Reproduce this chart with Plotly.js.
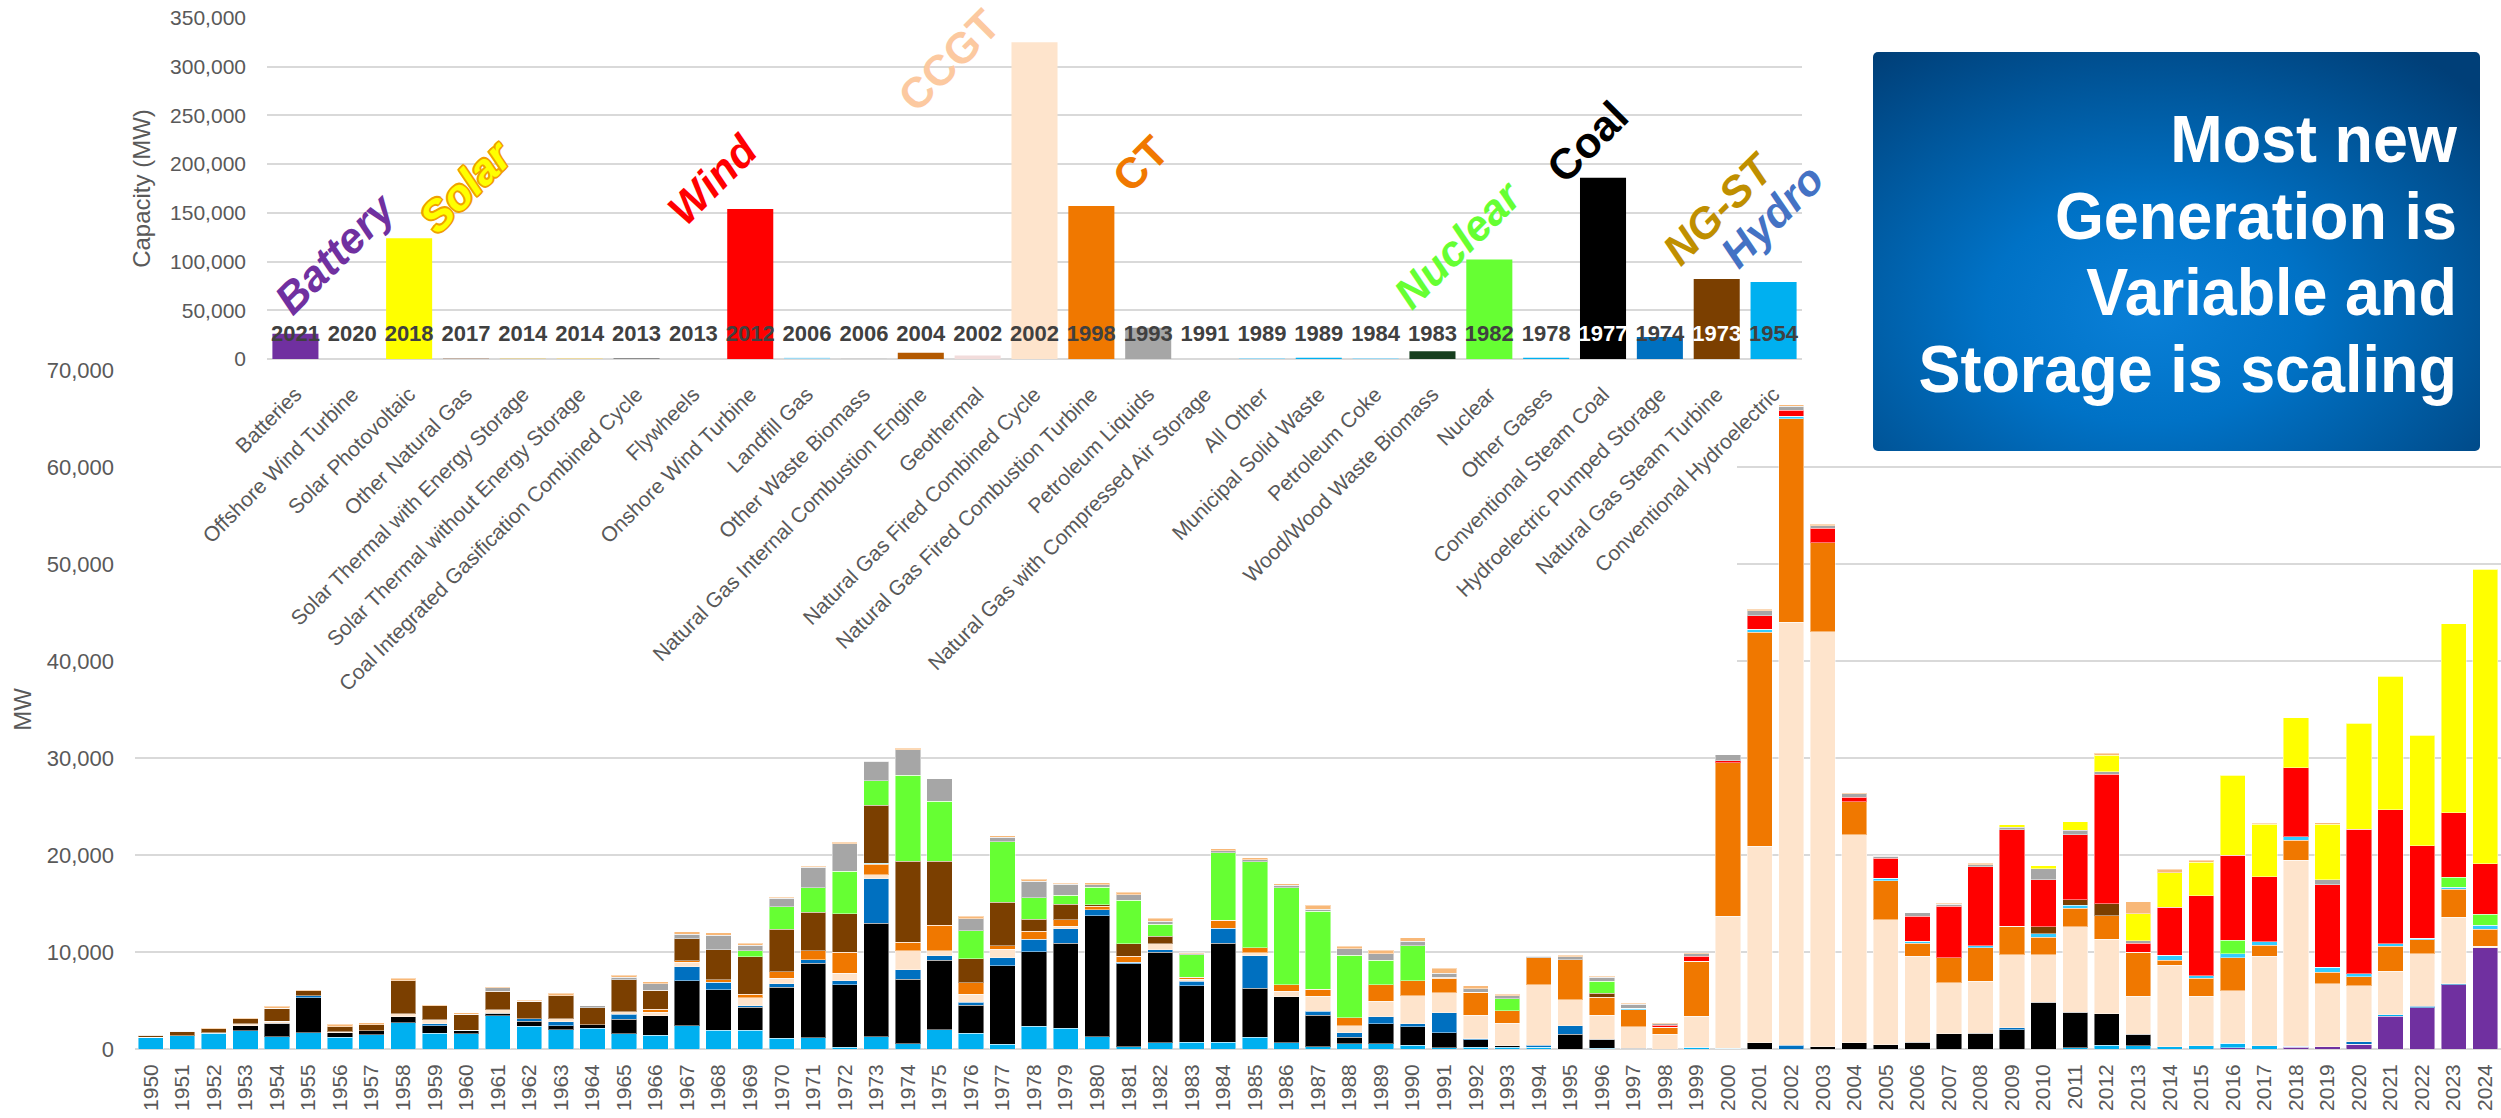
<!DOCTYPE html>
<html><head><meta charset="utf-8">
<script src="https://cdn.plot.ly/plotly-3.0.1.min.js"></script>
<style>
html,body{margin:0;padding:0;background:#fff;width:2501px;height:1118px;overflow:hidden;font-family:'Liberation Sans',Arial,sans-serif}
#main{position:absolute;left:0;top:0;width:2501px;height:1118px}
#cover{position:absolute;left:122px;top:0;width:1615px;height:705px;background:#fff}
#inset{position:absolute;left:0;top:0;width:1840px;height:720px}
#box{position:absolute;left:1873px;top:52px;width:607px;height:399px;border-radius:5px;
 background:radial-gradient(ellipse 75% 80% at 45% 65%, #0a80d8 0%, #0072c6 35%, #005ba2 65%, #003f78 100%);}
#box .txt{position:absolute;right:23px;top:49px;text-align:right;color:#fff;
 font-family:'Liberation Sans',Arial,sans-serif;font-weight:bold;font-size:66px;line-height:76.7px;white-space:nowrap;
 transform:scaleX(0.953);transform-origin:right top}
</style></head>
<body>
<div id="main"></div>
<div id="cover"></div>
<div id="inset"></div>
<div id="box"><div class="txt">Most new<br>Generation is<br>Variable and<br>Storage is scaling</div></div>
<script>
// ---------- main chart data (MW added per year) ----------
const YEARS = [1950,1951,1952,1953,1954,1955,1956,1957,1958,1959,
 1960,1961,1962,1963,1964,1965,1966,1967,1968,1969,
 1970,1971,1972,1973,1974,1975,1976,1977,1978,1979,
 1980,1981,1982,1983,1984,1985,1986,1987,1988,1989,
 1990,1991,1992,1993,1994,1995,1996,1997,1998,1999,
 2000,2001,2002,2003,2004,2005,2006,2007,2008,2009,
 2010,2011,2012,2013,2014,2015,2016,2017,2018,2019,
 2020,2021,2022,2023,2024];

const batteries = [0,0,0,0,0,0,0,0,0,0, 0,0,0,0,0,0,0,0,0,0, 0,0,0,0,0,0,0,0,0,0, 0,0,0,0,0,0,0,0,0,0,
 0,0,0,0,0,0,0,0,0,0, 0,0,0,0,0,0,0,0,0,0, 0,0,0,0,0,0,150,0,200,250, 500,3400,4250,6650,10450];
const convHydro = [1200,1380,1600,1900,1250,1700,1200,1450,2700,1650,
 1550,3450,2350,2000,2150,1550,1400,2400,1950,1950,
 1100,1150,200,1250,550,2000,1600,500,2350,2150,
 1250,250,650,700,700,1200,650,250,550,550,
 400,150,200,200,200,0,100,0,0,200,
 100,0,0,0,0,0,0,0,0,0,
 0,150,400,350,250,350,450,350,100,0,
 0,150,0,0,0];
const steamCoal = [0,0,0,500,1400,3600,500,450,600,750,
 400,250,500,400,350,1500,2050,4650,4150,2350,
 5250,7700,6400,11700,6650,7150,2900,8100,7700,8750,
 12500,8550,9300,5800,10200,5050,4750,3250,650,2050,
 1900,1550,750,150,0,1500,900,100,0,0,
 0,650,0,250,650,450,700,1550,1650,2000,
 4800,3650,3250,1150,0,0,0,0,0,0,
 0,0,0,0,0];
const pumpedStorage = [0,0,100,0,0,200,0,0,0,200,
 0,0,250,400,0,550,0,1450,800,150,
 400,350,450,4600,950,450,300,800,1250,1500,
 600,150,300,500,1550,3350,0,400,500,700,
 300,2050,100,0,200,900,0,0,0,0,
 0,0,400,0,0,0,0,0,0,200,
 0,0,0,0,0,0,0,0,0,0,
 250,0,150,100,0];
const ngcc = [0,0,0,200,200,0,100,0,350,400,
 0,350,0,300,0,250,350,450,0,850,
 550,0,750,400,2000,550,850,900,0,250,
 0,0,600,200,0,300,550,1550,700,1600,
 2900,2050,2450,2300,6250,2700,2500,2200,1500,3200,
 13600,20250,43600,42750,21450,12900,8850,5300,5350,7500,
 4900,8800,7650,3950,8400,5100,5400,9200,19150,6500,
 5750,4450,5400,6850,150];
const ngct = [0,0,0,0,0,0,0,0,0,0,
 0,0,0,0,0,0,300,150,250,350,
 650,950,2150,1100,850,2600,1200,350,850,700,
 350,600,0,200,800,550,700,700,800,1700,
 1550,1500,2350,1300,2750,4100,1850,1750,750,5650,
 15800,22050,21000,9200,3400,4000,1350,2550,3450,2950,
 1800,1900,2450,4550,500,1850,3400,1150,2050,1150,
 950,2600,1450,2850,1750];
const landfillGas = [0,0,0,0,0,0,0,0,0,0, 0,0,0,0,0,0,0,0,0,0,
 0,0,0,100,0,0,0,0,0,0, 0,0,0,0,0,0,0,0,0,0,
 0,0,0,0,0,0,0,150,0,0,
 0,300,250,0,0,250,200,0,200,0,
 400,300,0,0,500,250,400,350,400,550,
 300,250,150,250,400];
const ngSteam = [200,450,400,500,1350,500,500,600,3400,1450,
 1650,1900,1800,2400,1750,3300,1950,2250,3100,3850,
 4400,3950,4000,6000,8350,6600,2450,4500,1250,1550,
 150,1300,800,0,0,0,0,0,0,0,
 0,100,0,0,0,0,400,0,0,0,
 0,0,0,0,0,0,0,0,0,0,
 700,600,1200,0,0,0,0,0,0,0,
 0,0,0,0,0];
const nuclear = [0,0,0,0,0,0,0,0,0,0, 0,0,0,0,0,0,0,0,0,650,
 2300,2500,4400,2500,8850,6200,2900,6200,2200,950,
 1850,4500,1200,2300,7000,8850,10000,8050,6450,2550,
 3600,0,0,1250,0,0,1250,0,0,0,
 0,0,0,0,0,0,0,0,0,0,
 0,0,0,0,0,0,1400,0,0,0,
 0,0,0,1000,1150];
const onshoreWind = [0,0,0,0,0,0,0,0,0,0, 0,0,0,0,0,0,0,0,0,0, 0,0,0,0,0,0,0,0,0,0, 0,0,0,0,0,0,0,0,0,0,
 0,0,0,0,0,0,0,0,200,500,
 200,1400,600,1500,450,2050,2600,5300,8150,9950,
 4850,6700,13400,900,4950,8250,8800,6700,7100,8500,
 14900,13800,9550,6650,5200];
const petroleum = [50,0,0,0,0,0,0,0,0,0,
 0,350,0,0,200,250,700,500,1500,550,
 900,2150,2800,2000,2650,2300,1250,500,1700,1150,
 250,550,300,100,200,200,250,200,700,650,
 450,400,350,300,150,300,400,400,150,250,
 650,550,400,250,350,200,350,200,200,250,
 1150,450,250,250,0,0,0,0,0,500,
 0,0,0,0,0];
const solarPV = [0,0,0,0,0,0,0,0,0,0, 0,0,0,0,0,0,0,0,0,0, 0,0,0,0,0,0,0,0,0,0, 0,0,0,0,0,0,0,0,0,0,
 0,0,0,0,0,0,0,0,0,0,
 0,0,0,0,0,0,0,0,0,250,
 300,900,1700,2800,3550,3450,8200,5400,5150,5700,
 10950,13800,11400,19500,30350];
const allOther = [30,50,50,50,200,100,250,200,250,100,
 150,100,150,250,0,200,200,250,250,200,
 100,100,150,0,150,0,250,150,200,100,
 200,250,350,100,200,200,150,400,250,400,
 350,500,300,150,0,150,100,100,100,50,
 0,150,150,150,50,50,0,150,150,0,
 0,0,200,1250,400,200,0,100,0,150,
 0,0,0,0,0];

// ---------- inset data (peak-year capacity by technology) ----------
const TECH = ['Batteries','Offshore Wind Turbine','Solar Photovoltaic','Other Natural Gas',
 'Solar Thermal with Energy Storage','Solar Thermal without Energy Storage',
 'Coal Integrated Gasification Combined Cycle','Flywheels','Onshore Wind Turbine','Landfill Gas',
 'Other Waste Biomass','Natural Gas Internal Combustion Engine','Geothermal',
 'Natural Gas Fired Combined Cycle','Natural Gas Fired Combustion Turbine','Petroleum Liquids',
 'Natural Gas with Compressed Air Storage','All Other','Municipal Solid Waste','Petroleum Coke',
 'Wood/Wood Waste Biomass','Nuclear','Other Gases','Conventional Steam Coal',
 'Hydroelectric Pumped Storage','Natural Gas Steam Turbine','Conventional Hydroelectric'];
const TECH_YEAR = ['2021','2020','2018','2017','2014','2014','2013','2013','2012','2006','2006','2004','2002',
 '2002','1998','1993','1991','1989','1989','1984','1983','1982','1978','1977','1974','1973','1954'];
const TECH_CAP = [26000,40,124000,300,200,500,600,50,154000,1300,300,6500,3500,
 325000,157000,32000,100,1000,1200,1000,8000,102000,1200,186000,22500,82000,79000];
const TECH_COLORS = ['#7030A0','#C00000','#FFFF00','#843C0C','#FFC000','#FFD966','#404040','#7F7F7F',
 '#FF0000','#9DD9F3','#BFBFBF','#B35900','#F2DCDB','#FEE4CC','#F07800','#A6A6A6','#2F5597',
 '#9DD9F3','#00B0F0','#9DD9F3','#163E1E','#66FF33','#00B0F0','#000000','#0070C0','#7B3F00','#00B0F0'];
const TECH_YEAR_COLORS = TECH_YEAR.map((y,i) => (i===23||i===25) ? '#FFFFFF' : '#404040');

// ---------- main chart ----------
const STACK = [
 ['Batteries', batteries, '#7030A0'],
 ['Conventional Hydroelectric', convHydro, '#00B0F0'],
 ['Conventional Steam Coal', steamCoal, '#000000'],
 ['Hydroelectric Pumped Storage', pumpedStorage, '#0070C0'],
 ['Natural Gas Fired Combined Cycle', ngcc, '#FEE4CC'],
 ['Natural Gas Fired Combustion Turbine', ngct, '#F07800'],
 ['Landfill Gas', landfillGas, '#33CCFF'],
 ['Natural Gas Steam Turbine', ngSteam, '#7B3F00'],
 ['Nuclear', nuclear, '#66FF33'],
 ['Onshore Wind Turbine', onshoreWind, '#FF0000'],
 ['Petroleum Liquids', petroleum, '#A6A6A6'],
 ['Solar Photovoltaic', solarPV, '#FFFF00'],
 ['All Other', allOther, '#F8B878']
];
const xs = YEARS.map(String);
const mainTraces = STACK.map(([name, data, color]) => ({
  type:'bar', name, x: xs, y: data,
  marker:{color, line:{width:1, color:'rgba(255,255,255,0.45)'}},
  hoverinfo:'skip'
}));
const GRID = '#D9D9D9', TXT = '#595959';
Plotly.newPlot('main', mainTraces, {
  width:2501, height:1118,
  margin:{l:135, r:0, t:370, b:69, pad:0},
  barmode:'stack', bargap:0.2, showlegend:false,
  paper_bgcolor:'#fff', plot_bgcolor:'#fff',
  font:{family:'Liberation Sans, Arial, sans-serif', color:TXT},
  xaxis:{type:'category', range:[-0.5, YEARS.length-0.5], tickangle:-90, tickfont:{size:21, color:TXT}, ticks:'', showgrid:false,
         ticklabelstandoff:10, showline:false, automargin:false},
  yaxis:{range:[0,70000], dtick:10000, tickformat:',', tickfont:{size:22, color:TXT},
         gridcolor:GRID, gridwidth:2, zeroline:true, zerolinecolor:GRID, zerolinewidth:2,
         ticks:'', ticklabelstandoff:20, automargin:false,
         title:{text:'MW', font:{size:24, color:TXT}, standoff:8}}
}, {displayModeBar:false, staticPlot:true});

// ---------- inset chart ----------
const YEAR_LABEL_Y = 24600;
const insetTraces = [
 {type:'bar', x:TECH, y:TECH_CAP, marker:{color:TECH_COLORS}, hoverinfo:'skip'},
 {type:'scatter', mode:'text', x:TECH, y:TECH.map(() => YEAR_LABEL_Y), text:TECH_YEAR,
  textfont:{size:22, color:TECH_YEAR_COLORS, family:'Liberation Sans, Arial, sans-serif', weight:'bold'},
  textposition:'middle center', cliponaxis:false, hoverinfo:'skip'}
];
const BIG_FONT = 'Liberation Sans, Arial, sans-serif';
const big = (text, x, y, color, italic, shadow) => ({
  text, x, y, xref:'x', yref:'y', showarrow:false, textangle:-45,
  font:Object.assign({family:BIG_FONT, size:43, color, weight:'bold', style: italic ? 'italic':'normal'},
                     shadow ? {shadow} : {})
});
const OUT = '#F0A000';
const insetAnn = [
 big('Battery', 0.70, 108800, '#7030A0', true),
 big('Solar', 3.0, 177600, '#FFFF00', true,
     `-1.5px -1.5px 0 ${OUT}, 1.5px -1.5px 0 ${OUT}, -1.5px 1.5px 0 ${OUT}, 1.5px 1.5px 0 ${OUT}, 0 1.5px 0 ${OUT}, 1.5px 0 0 ${OUT}, -1.5px 0 0 ${OUT}, 0 -1.5px 0 ${OUT}`),
 big('Wind', 7.33, 183700, '#FF0000', true),
 big('CCGT', 11.5, 306900, '#FCC9A0', false),
 big('CT', 14.86, 200000, '#F07800', false),
 big('Nuclear', 20.45, 118000, '#66FF33', true),
 big('Coal', 22.72, 222700, '#000000', false),
 big('NG-ST', 25.04, 155000, '#BF8F00', true),
 big('Hydro', 25.97, 146800, '#4472C4', true)
];
Plotly.newPlot('inset', insetTraces, {
  width:1840, height:720,
  margin:{l:267, r:38, t:18, b:361, pad:0},
  bargap:0.19, showlegend:false,
  paper_bgcolor:'rgba(0,0,0,0)', plot_bgcolor:'rgba(0,0,0,0)',
  font:{family:'Liberation Sans, Arial, sans-serif', color:TXT},
  xaxis:{type:'category', range:[-0.5, TECH.length-0.5], tickangle:-45, tickfont:{size:21, color:TXT}, ticks:'', showgrid:false,
         ticklabelstandoff:18, automargin:false},
  yaxis:{range:[0,350000], dtick:50000, tickformat:',', tickfont:{size:21, color:TXT},
         gridcolor:GRID, gridwidth:2, zeroline:true, zerolinecolor:GRID, zerolinewidth:2,
         ticks:'', ticklabelstandoff:20, automargin:false,
         title:{text:'Capacity (MW)', font:{size:24, color:TXT}, standoff:12}},
  annotations: insetAnn
}, {displayModeBar:false, staticPlot:true});
</script>
</body></html>
